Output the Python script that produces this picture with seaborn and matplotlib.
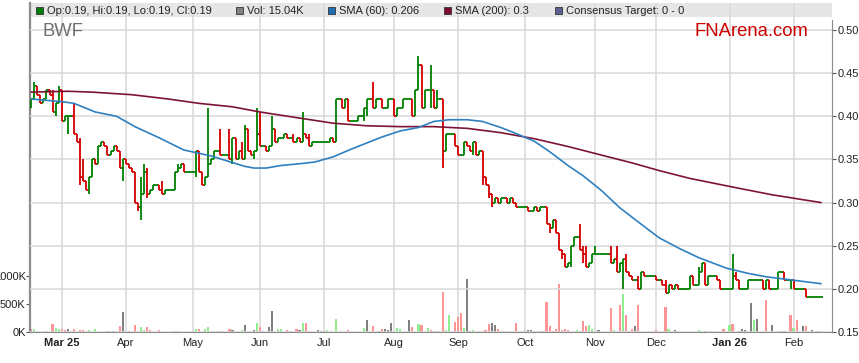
import numpy as np
import pandas as pd
import matplotlib
matplotlib.use("Agg")
import matplotlib.pyplot as plt
from matplotlib.patches import Rectangle
import seaborn as sns

# daily closes, 10 per row (from 17 Feb 2025)
close = [
    0.42, 0.435, 0.425, 0.415, 0.42, 0.43, 0.425, 0.405, 0.415, 0.43,
    0.395, 0.40, 0.40, 0.40, 0.38, 0.37, 0.33, 0.325, 0.315, 0.33,
    0.35, 0.345, 0.365, 0.37, 0.365, 0.355, 0.36, 0.365, 0.36, 0.34,
    0.35, 0.345, 0.34, 0.335, 0.30, 0.295, 0.31, 0.335, 0.31, 0.315,
    0.32, 0.32, 0.315, 0.31, 0.315, 0.315, 0.315, 0.335, 0.34, 0.345,
    0.335, 0.335, 0.335, 0.335, 0.36, 0.335, 0.32, 0.33, 0.345, 0.35,
    0.36, 0.36, 0.355, 0.355, 0.355, 0.35, 0.375, 0.35, 0.36, 0.35,
    0.385, 0.36, 0.355, 0.36, 0.38, 0.365, 0.365, 0.36, 0.365, 0.385,
    0.37, 0.375, 0.375, 0.38, 0.375, 0.375, 0.37, 0.375, 0.37, 0.38,
    0.375, 0.365, 0.37, 0.37, 0.37, 0.37, 0.37, 0.37, 0.375, 0.37,
    0.42, 0.42, 0.41, 0.42, 0.395, 0.395, 0.395, 0.40, 0.40, 0.41,
    0.42, 0.42, 0.41, 0.42, 0.42, 0.41, 0.41, 0.42, 0.42, 0.40,
    0.41, 0.41, 0.42, 0.42, 0.42, 0.40, 0.43, 0.46, 0.41, 0.43,
    0.43, 0.43, 0.41, 0.42, 0.42, 0.36, 0.38, 0.38, 0.38, 0.365,
    0.355, 0.355, 0.37, 0.365, 0.36, 0.37, 0.355, 0.36, 0.33, 0.32,
    0.31, 0.30, 0.305, 0.30, 0.305, 0.305, 0.30, 0.305, 0.30, 0.295,
    0.295, 0.295, 0.295, 0.29, 0.29, 0.295, 0.29, 0.295, 0.295, 0.275,
    0.27, 0.28, 0.265, 0.245, 0.24, 0.225, 0.23, 0.25, 0.26, 0.26,
    0.245, 0.24, 0.225, 0.23, 0.24, 0.24, 0.24, 0.24, 0.24, 0.24,
    0.23, 0.235, 0.22, 0.23, 0.235, 0.22, 0.215, 0.21, 0.21, 0.20,
    0.22, 0.215, 0.215, 0.215, 0.215, 0.21, 0.21, 0.205, 0.195, 0.205,
    0.20, 0.205, 0.20, 0.20, 0.20, 0.20, 0.215, 0.205, 0.205, 0.22,
    0.23, 0.205, 0.215, 0.215, 0.215, 0.21, 0.20, 0.20, 0.20, 0.20,
    0.215, 0.21, 0.20, 0.20, 0.20, 0.21, 0.21, 0.21, 0.21, 0.21,
    0.20, 0.21, 0.20, 0.20, 0.20, 0.22, 0.22, 0.21, 0.21, 0.21,
    0.20, 0.20, 0.20, 0.20, 0.19, 0.19, 0.19, 0.19, 0.19, 0.19,
]
first_open = 0.41

# intraday highs / lows beyond the open-close range (day index -> price)
wick_hi = {1: 0.44, 2: 0.43, 7: 0.43, 9: 0.435, 14: 0.415, 16: 0.375, 17: 0.35,
           29: 0.35, 34: 0.325, 36: 0.33, 37: 0.345, 38: 0.34, 43: 0.325, 48: 0.345,
           55: 0.35, 58: 0.41, 62: 0.385, 65: 0.385, 67: 0.375, 69: 0.37, 70: 0.39,
           74: 0.41, 75: 0.405, 79: 0.40, 86: 0.38, 89: 0.405, 91: 0.38, 104: 0.42,
           112: 0.44, 119: 0.42, 125: 0.41, 127: 0.47, 128: 0.46, 131: 0.46,
           133: 0.43, 140: 0.365, 169: 0.29, 173: 0.255, 175: 0.24, 180: 0.275,
           181: 0.25, 182: 0.25, 185: 0.25, 190: 0.25, 192: 0.25, 195: 0.24,
           199: 0.215, 207: 0.21, 208: 0.21, 219: 0.225, 221: 0.22, 230: 0.24,
           231: 0.22, 247: 0.22}
wick_lo = {8: 0.40, 12: 0.38, 16: 0.32, 19: 0.31, 30: 0.325, 35: 0.29, 36: 0.28,
           37: 0.32, 38: 0.305, 54: 0.33, 58: 0.335, 66: 0.345, 70: 0.36, 73: 0.35,
           100: 0.37, 109: 0.395, 110: 0.40, 126: 0.41, 127: 0.43, 131: 0.41,
           135: 0.34, 136: 0.37, 145: 0.355, 148: 0.32, 150: 0.305, 151: 0.295,
           170: 0.265, 171: 0.27, 174: 0.235, 177: 0.225, 181: 0.23, 194: 0.20,
           200: 0.20, 216: 0.20, 220: 0.22, 230: 0.20, 241: 0.20, 249: 0.20}

# volume bars: (day index, thousands, u=up / d=down / n=unchanged)
volume_bars = [
    (0, 48, "d"), (1, 60, "u"), (2, 24, "u"), (5, 18, "u"), (7, 150, "d"), (8, 70, "u"),
    (9, 60, "u"), (10, 60, "d"), (11, 36, "d"), (12, 60, "n"), (14, 48, "d"), (16, 42, "d"),
    (17, 42, "d"), (19, 42, "u"), (21, 60, "u"), (25, 24, "d"), (27, 24, "n"), (29, 107, "d"),
    (30, 357, "n"), (32, 24, "d"), (34, 130, "d"), (36, 83, "u"), (37, 30, "u"), (38, 83, "d"),
    (39, 30, "d"), (42, 42, "d"), (47, 18, "u"), (48, 18, "u"), (54, 60, "u"), (55, 48, "d"),
    (57, 48, "u"), (58, 83, "u"), (59, 24, "d"), (60, 24, "u"), (61, 24, "u"), (62, 24, "d"),
    (65, 60, "d"), (66, 42, "n"), (69, 42, "u"), (70, 119, "n"), (72, 18, "u"), (73, 42, "n"),
    (74, 167, "u"), (75, 83, "d"), (76, 24, "n"), (78, 83, "n"), (79, 369, "n"), (81, 60, "u"),
    (82, 48, "u"), (84, 42, "d"), (85, 24, "d"), (87, 48, "d"), (88, 40, "n"), (89, 167, "u"),
    (90, 167, "d"), (91, 24, "d"), (94, 42, "n"), (95, 24, "n"), (96, 18, "n"), (97, 36, "u"),
    (100, 238, "u"), (104, 42, "d"), (109, 71, "u"), (110, 220, "n"), (112, 107, "d"),
    (114, 24, "n"), (115, 60, "d"), (116, 60, "n"), (117, 30, "n"), (118, 167, "n"),
    (120, 71, "u"), (121, 60, "u"), (124, 220, "n"), (125, 89, "d"), (127, 149, "u"),
    (128, 131, "d"), (130, 71, "u"), (131, 42, "d"), (132, 24, "d"), (133, 24, "u"),
    (135, 714, "d"), (136, 36, "u"), (137, 309, "u"), (139, 178, "d"), (140, 262, "d"),
    (141, 345, "d"), (142, 71, "u"), (143, 940, "n"), (144, 24, "n"), (145, 42, "u"),
    (149, 42, "d"), (150, 143, "d"), (151, 167, "n"), (152, 119, "n"), (153, 60, "d"),
    (155, 18, "d"), (159, 160, "d"), (162, 18, "n"), (163, 36, "n"), (164, 36, "n"),
    (165, 18, "u"), (167, 24, "u"), (168, 24, "d"), (169, 535, "d"), (170, 107, "d"),
    (171, 18, "n"), (172, 60, "d"), (173, 863, "d"), (174, 42, "d"), (175, 54, "d"),
    (176, 42, "d"), (179, 42, "u"), (180, 24, "d"), (181, 202, "d"), (182, 101, "d"),
    (183, 119, "u"), (184, 60, "u"), (186, 36, "n"), (190, 428, "d"), (191, 36, "u"),
    (193, 476, "d"), (194, 684, "u"), (195, 298, "d"), (196, 18, "n"), (197, 48, "d"),
    (198, 107, "n"), (199, 476, "d"), (205, 30, "d"), (208, 446, "d"), (209, 60, "u"),
    (211, 30, "n"), (219, 30, "u"), (220, 24, "u"), (221, 24, "n"), (225, 24, "d"),
    (227, 48, "d"), (229, 119, "u"), (230, 149, "d"), (232, 24, "n"), (233, 60, "n"),
    (234, 36, "n"), (236, 518, "n"), (237, 208, "u"), (238, 238, "n"), (241, 577, "d"),
    (243, 131, "n"), (246, 24, "d"), (247, 18, "n"), (249, 298, "d"), (250, 71, "u"),
    (251, 220, "d"), (253, 107, "n"), (254, 107, "d"), (256, 36, "n"), (258, 24, "n"),
]

# moving averages read at sample days
sma60_day = [0, 10, 14, 21, 28, 34, 42, 50, 59, 70, 73, 77, 82, 88, 93, 99, 105, 110,
             115, 121, 127, 132, 137, 143, 148, 154, 159, 165, 170, 176, 181, 187, 193,
             200, 206, 213, 219, 228, 235, 241, 250, 259]
sma60_val = [0.42, 0.417, 0.415, 0.405, 0.40, 0.388, 0.375, 0.361, 0.354, 0.342, 0.34,
             0.34, 0.343, 0.345, 0.347, 0.353, 0.362, 0.369, 0.376, 0.383, 0.387, 0.394,
             0.396, 0.396, 0.394, 0.387, 0.38, 0.371, 0.359, 0.343, 0.331, 0.314, 0.294,
             0.275, 0.259, 0.246, 0.236, 0.224, 0.218, 0.214, 0.21, 0.206]
sma200_day = [0, 12, 20, 33, 45, 55, 66, 75, 86, 99, 110, 121, 132, 143, 154, 165, 176,
              187, 197, 206, 216, 230, 243, 259]
sma200_val = [0.428, 0.429, 0.428, 0.425, 0.42, 0.415, 0.411, 0.405, 0.399, 0.392, 0.389,
              0.388, 0.388, 0.386, 0.381, 0.374, 0.365, 0.355, 0.346, 0.337, 0.328, 0.318,
              0.309, 0.30]

price_ticks = [0.15, 0.20, 0.25, 0.30, 0.35, 0.40, 0.45, 0.50]
vol_ticks = [0, 500, 1000]
month_labels = ["Mar 25", "Apr", "May", "Jun", "Jul", "Aug", "Sep", "Oct", "Nov", "Dec",
                "Jan 26", "Feb"]
holidays = ["2026-01-01"]

# ---- build OHLC table
dates = pd.bdate_range("2025-02-17", periods=len(close))
df = pd.DataFrame({"date": dates, "close": close})
df["i"] = np.arange(len(df))
df["open"] = df["close"].shift(1).fillna(first_open)
df["high"] = df[["open", "close"]].max(axis=1)
df["low"] = df[["open", "close"]].min(axis=1)
for k, v in wick_hi.items():
    df.loc[k, "high"] = max(v, df.loc[k, "high"])
for k, v in wick_lo.items():
    df.loc[k, "low"] = min(v, df.loc[k, "low"])
bar_col = np.where(df["close"] >= df["open"], "#008000", "#d40000")

vol_day, vol_k, vol_dir = zip(*volume_bars)

# first trading day of each month for the grid
month_pos = []
for m in pd.period_range("2025-03", "2026-02", freq="M"):
    d = df[(df["date"].dt.to_period("M") == m) & (~df["date"].isin(pd.to_datetime(holidays)))]
    month_pos.append(int(d["i"].iloc[0]))

sns.set_style("white")
plt.rcParams["font.family"] = ["Liberation Sans", "DejaVu Sans"]

W, H = 859, 363
fig = plt.figure(figsize=(W / 100, H / 100), dpi=100)
top_px, bot_px, left_px, right_px = 3, 332, 30, 832
# bottom axes: volume + month grid; twin on top: prices
axv = fig.add_axes([left_px / W, 1 - bot_px / H, (right_px - left_px) / W, (bot_px - top_px) / H])
ax = axv.twinx()
ax.set_zorder(2)
ax.patch.set_visible(False)

px_per_price = (332 - 30) / 0.35
ax.set_ylim(0.15, 0.15 + (bot_px - top_px) / px_per_price)
axv.set_ylim(0, (bot_px - top_px) * 500 / 28)
axv.set_xlim(-0.4, 262.6)

# legend band
band_h = (17 - top_px) / (bot_px - top_px)
axv.add_patch(Rectangle((0, 1 - band_h), 1, band_h, transform=axv.transAxes,
                        facecolor="#e6e6e6", edgecolor="none", zorder=0))

# month grid + labels
axv.set_xticks(month_pos)
axv.set_xticklabels(month_labels)
axv.grid(True, axis="x", color="#d9d9d9", lw=1.1)
axv.set_axisbelow(True)
axv.tick_params(axis="x", bottom=False, length=0, labelsize=8, pad=4, labelcolor="#222222")
for lab in axv.get_xticklabels():
    if " " in lab.get_text():
        lab.set_fontweight("bold")

# volume
vcol = {"u": "#90ee90", "d": "#ff9494", "n": "#808080"}
axv.bar(vol_day, vol_k, width=0.72, color=[vcol[c] for c in vol_dir], lw=0, zorder=2)

# price grid
ax.set_yticks(price_ticks)
ax.set_yticklabels([f"{p:.2f}" for p in price_ticks])
ax.grid(True, axis="y", color="#d9d9d9", lw=1.1, zorder=0)

# OHLC bars
lw = 1.3
ax.vlines(df["i"], df["low"], df["high"], colors=bar_col, lw=lw, zorder=3)
ax.hlines(df["open"], df["i"] - 0.5, df["i"], colors=bar_col, lw=lw, zorder=3)
ax.hlines(df["close"], df["i"], df["i"] + 0.5, colors=bar_col, lw=lw, zorder=3)

# moving averages
sns.lineplot(x=sma200_day, y=sma200_val, ax=ax, color="#7d1436", lw=1.2, zorder=4)
sns.lineplot(x=sma60_day, y=sma60_val, ax=ax, color="#2f80c0", lw=1.2, zorder=4)

# axes styling
for a in (ax, axv):
    for s in a.spines.values():
        s.set_visible(False)
axv.spines["left"].set_visible(True)
axv.spines["left"].set_color("#8c8c8c")
axv.spines["left"].set_linewidth(1.6)
axv.spines["bottom"].set_visible(True)
axv.spines["bottom"].set_color("#8c8c8c")
ax.spines["right"].set_visible(True)
ax.spines["right"].set_color("#8c8c8c")
ax.spines["right"].set_bounds(0.15, 0.15 + (bot_px - 20) / px_per_price)

ax.yaxis.tick_right()
ax.tick_params(axis="y", right=True, length=3, width=0.8, color="#555555",
               labelsize=8, pad=1, labelcolor="#222222")
ax.set_ylabel("")

axv.yaxis.tick_left()
axv.set_yticks(vol_ticks)
axv.set_yticklabels([f"{v}K" for v in vol_ticks])
axv.tick_params(axis="y", left=True, length=3, width=0.8, color="#555555",
                labelsize=8, pad=0, labelcolor="#222222")

# watermarks
fig.text(42 / W, 1 - 31 / H, "BWF", fontsize=13.3, color="#707070", va="center", ha="left")
fig.text(694 / W, 1 - 32 / H, "FNArena.com", fontsize=13.3, color="#cc0000", va="center",
         ha="left")

# legend entries in the band
legend_items = [
    (36, "#008000", "Op:0.19, Hi:0.19, Lo:0.19, Cl:0.19"),
    (236, "#808080", "Vol: 15.04K"),
    (328, "#1f6fb0", "SMA (60): 0.206"),
    (444, "#7a0a2e", "SMA (200): 0.3"),
    (555, "#5a5f8f", "Consensus Target: 0 - 0"),
]
for x0, c, txt in legend_items:
    fig.add_artist(Rectangle((x0 / W, 1 - 14 / H), 7 / W, 7 / H, transform=fig.transFigure,
                             facecolor=c, edgecolor="#333333", lw=0.6, zorder=6))
    fig.text((x0 + 11) / W, 1 - 10.5 / H, txt, fontsize=8, color="#222222", va="center",
             ha="left", zorder=6)

fig.savefig("out.png", dpi=100)
